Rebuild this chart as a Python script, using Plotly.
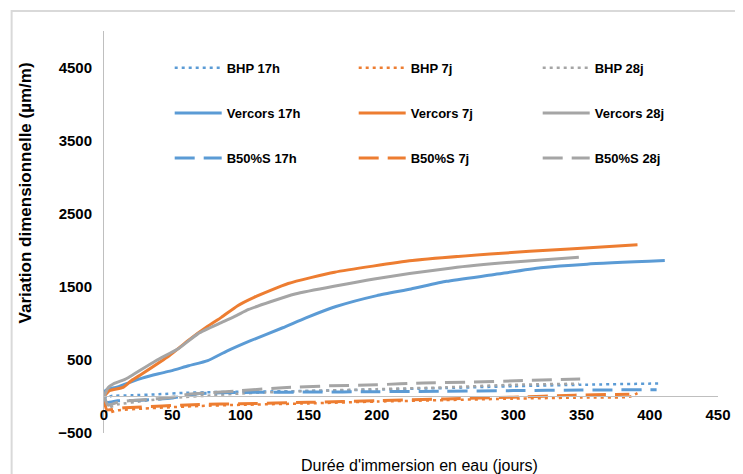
import plotly.graph_objects as go

# ---------------- data ----------------
bhp_17h_days = [0, 2, 5, 20, 40, 60, 80, 100, 150, 200, 250, 300, 350, 409]
bhp_17h_vals = [0, -30, 5, 15, 30, 50, 60, 65, 75, 95, 115, 140, 160, 178]

bhp_7j_days = [0, 2, 10, 30, 70, 100, 150, 200, 250, 300, 350, 385, 391]
bhp_7j_vals = [0, -220, -190, -165, -130, -115, -95, -70, -50, -30, -15, -5, 45]

bhp_28j_days = [0, 3, 10, 30, 50, 80, 100, 150, 200, 250, 300, 348]
bhp_28j_vals = [0, -150, -110, -60, -20, 15, 40, 75, 100, 125, 160, 175]

vercors_17h_days = [0, 1, 3, 10, 20, 28, 40, 49, 62, 76, 90, 107, 131, 148, 170,
                    200, 225, 251, 285, 320, 354, 411]
vercors_17h_vals = [0, 80, 100, 130, 200, 250, 310, 350, 420, 490, 620, 760, 940,
                    1075, 1230, 1380, 1470, 1575, 1665, 1760, 1810, 1859]

vercors_7j_days = [0, 4, 14, 20, 28, 48, 62, 76, 86, 98, 110, 135, 169, 226, 283, 341, 391]
vercors_7j_vals = [0, 78, 123, 215, 310, 560, 770, 960, 1082, 1242, 1356, 1545, 1700,
                   1859, 1950, 2019, 2076]

vercors_28j_days = [0, 3, 7, 15, 18, 38, 55, 69, 86, 97, 106, 140, 198, 255, 298, 348]
vercors_28j_vals = [0, 120, 174, 230, 260, 489, 660, 860, 1010, 1105, 1190, 1402, 1608,
                    1759, 1836, 1904]

b50_17h_days = [0, 2, 10, 30, 50, 70, 100, 150, 200, 250, 300, 350, 405]
b50_17h_vals = [0, -80, -60, -50, -20, 40, 55, 60, 65, 72, 80, 88, 92]

b50_7j_days = [0, 2, 15, 70, 100, 150, 200, 250, 300, 345, 375, 385]
b50_7j_vals = [0, -180, -155, -110, -100, -80, -58, -35, -10, 18, 27, 30]

b50_28j_days = [0, 3, 10, 20, 40, 50, 62, 97, 131, 165, 200, 234, 268, 302, 349]
b50_28j_vals = [0, -120, -80, -55, -30, -10, 30, 75, 120, 145, 160, 185, 195, 215, 240]

x_ticks = [0, 50, 100, 150, 200, 250, 300, 350, 400, 450]
y_ticks = [-500, 500, 1500, 2500, 3500, 4500]

BLUE, ORANGE, GRAY = "#5B9BD5", "#ED7D31", "#A5A5A5"
DOT, DASH = "3px,4px", "20px,9px"

series = [
    ("BHP 17h", bhp_17h_days, bhp_17h_vals, BLUE, DOT, 2.5, "legend"),
    ("BHP 7j", bhp_7j_days, bhp_7j_vals, ORANGE, DOT, 2.5, "legend"),
    ("BHP 28j", bhp_28j_days, bhp_28j_vals, GRAY, DOT, 2.5, "legend"),
    ("Vercors 17h", vercors_17h_days, vercors_17h_vals, BLUE, "solid", 3, "legend2"),
    ("Vercors 7j", vercors_7j_days, vercors_7j_vals, ORANGE, "solid", 3, "legend2"),
    ("Vercors 28j", vercors_28j_days, vercors_28j_vals, GRAY, "solid", 3, "legend2"),
    ("B50%S 17h", b50_17h_days, b50_17h_vals, BLUE, DASH, 3, "legend3"),
    ("B50%S 7j", b50_7j_days, b50_7j_vals, ORANGE, DASH, 3, "legend3"),
    ("B50%S 28j", b50_28j_days, b50_28j_vals, GRAY, DASH, 3, "legend3"),
]

# page has an 8px body margin: figure placed at (8, 8) in the 743x474 window
OFF = 8
W, H = 743 - OFF, 474 - OFF
ML, MR, MT, MB = 103.5 - OFF, 18, 31 - OFF, 41
PW, PH = W - ML - MR, H - MT - MB


def px_x(p):
    """page pixel x -> paper fraction"""
    return (p - OFF - ML) / PW


def px_y(p):
    """page pixel y -> paper fraction"""
    return (H - MB - (p - OFF)) / PH


fig = go.Figure()
for name, xs, ys, col, dash, lw, leg in series:
    fig.add_trace(go.Scatter(x=xs, y=ys, mode="lines", name=name, legend=leg,
                             line=dict(color=col, dash=dash, width=lw,
                                       shape="spline", smoothing=0.5)))

FONT = "Liberation Sans"
tick_font = dict(family=FONT, size=15, color="#000000", weight="bold")
leg_font = dict(family=FONT, size=13, color="#000000", weight="bold")

legend_common = dict(orientation="h", xanchor="left", yanchor="middle",
                     entrywidth=122, entrywidthmode="pixels", itemwidth=47,
                     font=leg_font, bgcolor="rgba(0,0,0,0)", traceorder="normal",
                     x=px_x(170))

fig.update_layout(
    width=W, height=H,
    margin=dict(l=ML, r=MR, t=MT, b=MB, pad=0),
    paper_bgcolor="white", plot_bgcolor="white",
    font=dict(family=FONT, color="#000000"),
    showlegend=True,
    legend=dict(legend_common, y=px_y(67.7)),
    legend2=dict(legend_common, y=px_y(113)),
    legend3=dict(legend_common, y=px_y(158)),
    xaxis=dict(range=[0, 450], tickvals=x_ticks, showgrid=False, zeroline=False,
               showline=True, linecolor="#BFBFBF", linewidth=1, ticks="",
               anchor="free", position=500 / 5500, tickfont=tick_font,
               ticklabelstandoff=5),
    yaxis=dict(range=[-500, 5000], tickvals=y_ticks, showgrid=False, zeroline=False,
               showline=True, linecolor="#BFBFBF", linewidth=1, ticks="",
               tickfont=tick_font, ticklabelstandoff=8),
    annotations=[
        dict(text="Variation dimensionnelle (µm/m)", xref="paper", yref="paper",
             x=px_x(24), y=px_y(193), textangle=-90, showarrow=False,
             xanchor="center", yanchor="middle",
             font=dict(family=FONT, size=17, color="#000000", weight="bold")),
        dict(text="Durée d'immersion en eau (jours)", xref="paper", yref="paper",
             x=px_x(423), y=px_y(465.5), showarrow=False,
             xanchor="center", yanchor="middle",
             font=dict(family=FONT, size=16, color="#000000")),
    ],
    shapes=[
        dict(type="rect", xref="paper", yref="paper", x0=px_x(10), y0=px_y(11),
             x1=px_x(800), y1=px_y(520), line=dict(color="#D9D9D9", width=2),
             fillcolor="rgba(0,0,0,0)", layer="below"),
    ],
)

fig.write_html("out.html")
